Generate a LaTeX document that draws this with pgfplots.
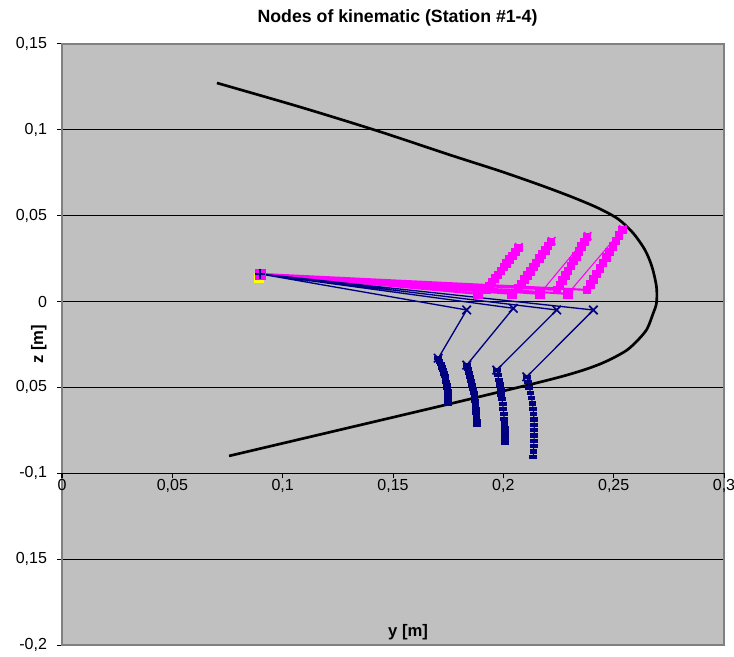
\documentclass[border=0pt]{standalone}
\usepackage{fontspec}
\setmainfont{Liberation Sans}
\usepackage{pgfplots}
\pgfplotsset{compat=1.18}

\definecolor{plotgray}{RGB}{192,192,192}
\definecolor{bordergray}{RGB}{128,128,128}
\definecolor{navy}{RGB}{0,0,128}
\definecolor{mag}{RGB}{255,0,255}
\definecolor{yel}{RGB}{255,255,0}

\pgfplotsset{
  sq/.style={mark=square*, mark options={solid, xscale=1.4, yscale=0.7}},
}

\begin{document}
\begin{tikzpicture}
\begin{axis}[
    name=main,
    scale only axis,
    width=496.5pt, height=450.75pt,
    xmin=0, xmax=0.3, ymin=-0.2, ymax=0.15,
    axis background/.style={fill=plotgray},
    axis line style={draw=bordergray, line width=1pt},
    xtick=\empty,
    ytick={-0.2,-0.15,-0.1,-0.05,0,0.05,0.1,0.15},
    yticklabels={{-0,2},{0,15},{-0,1},{0,05},{0},{0,05},{0,1},{0,15}},
    ytick pos=left,
    tick align=outside,
    major tick length=3.75pt,
    tick style={black, line width=0.75pt},
    yticklabel style={font=\fontsize{12}{14}\selectfont, anchor=east, xshift=-4pt},
    ymajorgrids,
    major grid style={black, line width=0.75pt},
    every axis title shift=0pt,
    title={Nodes of kinematic (Station \#1-4)},
    title style={font=\fontsize{13.3}{15}\selectfont\bfseries,
                 at={(axis description cs:0.5068,1.0433)}, anchor=center},
    xlabel={y [m]},
    xlabel style={font=\fontsize{12.5}{14}\selectfont\bfseries,
                  at={(axis description cs:0.5227,0.0216)}, anchor=center},
    ylabel={z [m]},
    ylabel style={font=\fontsize{12.5}{14}\selectfont\bfseries,
                  at={(axis description cs:-0.0352,0.5)}, anchor=center},
]
% outer contour
\addplot[black, line width=2pt, smooth, tension=0.5] coordinates {
  (0.0702,0.1273) (0.1079,0.1133) (0.1432,0.0993) (0.1758,0.0854)
  (0.1985,0.0760) (0.2166,0.0679) (0.2311,0.0609) (0.2429,0.0545)
  (0.2520,0.0481) (0.2588,0.0399) (0.2642,0.0300) (0.2674,0.0201)
  (0.2694,0.0085) (0.2694,-0.0008) (0.2678,-0.0072) (0.2651,-0.0160)
  (0.2610,-0.0224) (0.2561,-0.0282) (0.2497,-0.0329) (0.2438,-0.0364)
  (0.2370,-0.0396) (0.2280,-0.0431) (0.2166,-0.0469) (0.1925,-0.0544)
  (0.1668,-0.0623) (0.0757,-0.0899)
};

% magenta: hub to lower nodes
\addplot[mag, line width=1.6pt] table {
x y
0.0897 0.0161
0.1884 0.0045

0.0897 0.0161
0.1922 0.0068

0.0897 0.0161
0.2038 0.0045

0.0897 0.0161
0.2067 0.0080

0.0897 0.0161
0.2165 0.0045

0.0897 0.0161
0.2243 0.0068

0.0897 0.0161
0.2292 0.0045

0.0897 0.0161
0.2379 0.0068
};
% magenta: lower node to upper node
\addplot[mag, line width=0.8pt] table {
x y
0.1884 0.0045
0.2067 0.0313

0.2038 0.0045
0.2216 0.0348

0.2165 0.0045
0.2379 0.0377

0.2292 0.0045
0.2538 0.0417
};
% magenta: node paths
\addplot[mag, only marks, mark=square*, mark size=2.8pt] coordinates {
  (0.1922,0.0068) (0.1935,0.0090) (0.1948,0.0113) (0.1962,0.0135)
  (0.1975,0.0157) (0.1988,0.0179) (0.2001,0.0202) (0.2014,0.0224)
  (0.2027,0.0246) (0.2041,0.0268) (0.2054,0.0291) (0.2067,0.0313)
};
\addplot[mag, only marks, mark=square*, mark size=2.8pt] coordinates {
  (0.2067,0.0080) (0.2081,0.0104) (0.2094,0.0129) (0.2108,0.0153)
  (0.2121,0.0177) (0.2135,0.0202) (0.2148,0.0226) (0.2162,0.0251)
  (0.2175,0.0275) (0.2189,0.0299) (0.2202,0.0324) (0.2216,0.0348)
};
\addplot[mag, only marks, mark=square*, mark size=2.8pt] coordinates {
  (0.2243,0.0068) (0.2255,0.0096) (0.2268,0.0124) (0.2280,0.0152)
  (0.2292,0.0180) (0.2305,0.0208) (0.2317,0.0237) (0.2330,0.0265)
  (0.2342,0.0293) (0.2354,0.0321) (0.2367,0.0349) (0.2379,0.0377)
};
\addplot[mag, only marks, mark=square*, mark size=2.8pt] coordinates {
  (0.2379,0.0068) (0.2393,0.0100) (0.2408,0.0131) (0.2422,0.0163)
  (0.2437,0.0195) (0.2451,0.0227) (0.2466,0.0258) (0.2480,0.0290)
  (0.2495,0.0322) (0.2509,0.0354) (0.2524,0.0385) (0.2538,0.0417)
};
\addplot[mag, only marks, mark=square*, mark size=3.5pt] coordinates {
  (0.1884,0.0045) (0.2038,0.0045) (0.2165,0.0045) (0.2292,0.0045)
};
\addplot[mag, only marks, mark=x, mark size=4pt, mark options={line width=1.2pt}] coordinates {
  (0.2070,0.0318) (0.2219,0.0353) (0.2382,0.0382) (0.2541,0.0422)
};

% navy: hub to middle nodes to lower nodes
\addplot[navy, line width=1pt] table {
x y
0.0897 0.0161
0.1834 -0.0049
0.1705 -0.0330

0.0897 0.0161
0.2045 -0.0039
0.1834 -0.0370

0.0897 0.0161
0.2242 -0.0049
0.1970 -0.0399

0.0897 0.0161
0.2408 -0.0049
0.2106 -0.0438
};
% navy: lower node paths
\addplot[navy, line width=0.8pt, sq, mark size=1.8pt] coordinates {
  (0.1705,-0.0330) (0.1711,-0.0348) (0.1716,-0.0365) (0.1722,-0.0383)
  (0.1726,-0.0400) (0.1731,-0.0418) (0.1734,-0.0435) (0.1738,-0.0453)
  (0.1741,-0.0470) (0.1744,-0.0488) (0.1746,-0.0505) (0.1748,-0.0523)
  (0.1749,-0.0540) (0.1750,-0.0558) (0.1751,-0.0575) (0.1751,-0.0593)
};
\addplot[navy, line width=0.8pt, sq, mark size=1.8pt] coordinates {
  (0.1834,-0.0370) (0.1840,-0.0393) (0.1845,-0.0417) (0.1850,-0.0440)
  (0.1855,-0.0463) (0.1859,-0.0486) (0.1863,-0.0510) (0.1866,-0.0533)
  (0.1869,-0.0556) (0.1872,-0.0579) (0.1874,-0.0603) (0.1876,-0.0626)
  (0.1877,-0.0649) (0.1878,-0.0672) (0.1879,-0.0696) (0.1879,-0.0719)
};
\addplot[navy, line width=0.8pt, sq, mark size=1.8pt] coordinates {
  (0.1970,-0.0399) (0.1975,-0.0427) (0.1979,-0.0456) (0.1984,-0.0484)
  (0.1988,-0.0513) (0.1991,-0.0541) (0.1994,-0.0569) (0.1997,-0.0598)
  (0.2000,-0.0626) (0.2002,-0.0655) (0.2004,-0.0683) (0.2005,-0.0711)
  (0.2006,-0.0740) (0.2007,-0.0768) (0.2008,-0.0797) (0.2008,-0.0825)
};
\addplot[navy, line width=0.8pt, sq, mark size=1.8pt] coordinates {
  (0.2106,-0.0438) (0.2112,-0.0469) (0.2118,-0.0500) (0.2123,-0.0531)
  (0.2128,-0.0562) (0.2132,-0.0593) (0.2135,-0.0625) (0.2137,-0.0656)
  (0.2139,-0.0687) (0.2140,-0.0718) (0.2140,-0.0749) (0.2140,-0.0780)
  (0.2139,-0.0811) (0.2138,-0.0842) (0.2137,-0.0873) (0.2136,-0.0904)
};
\addplot[navy, only marks, mark=x, mark size=4.5pt, mark options={line width=1.3pt}] coordinates {
  (0.1834,-0.0049) (0.2045,-0.0039) (0.2242,-0.0049) (0.2408,-0.0049)
  (0.1705,-0.0330) (0.1834,-0.0370) (0.1970,-0.0399) (0.2106,-0.0438)
};

% hub
\addplot[yel, only marks, mark=square*, mark size=3.4pt] coordinates {(0.0891,0.0137)};
\addplot[mag, only marks, mark=square*, mark size=3.8pt] coordinates {(0.0897,0.0160)};
\addplot[navy, only marks, mark=+, mark size=4pt, mark options={line width=1.2pt}] coordinates {(0.0897,0.0161)};
\end{axis}

% horizontal axis crossing at z = -0.1
\begin{axis}[
    at={(main.north west)}, anchor=north west,
    scale only axis,
    width=496.5pt, height=321.96pt,
    xmin=0, xmax=0.3, ymin=-0.1, ymax=0.15,
    axis x line*=bottom,
    hide y axis,
    x axis line style={black, line width=0.75pt},
    xtick={0,0.05,0.1,0.15,0.2,0.25,0.3},
    xticklabels={0,{0,05},{0,1},{0,15},{0,2},{0,25},{0,3}},
    tick align=outside,
    major tick length=3.75pt,
    tick style={black, line width=0.75pt},
    xticklabel style={font=\fontsize{12}{14}\selectfont, anchor=north, yshift=3pt},
]
\end{axis}

\pgfresetboundingbox
\path[use as bounding box] ([xshift=-46.5pt,yshift=-8.25pt]main.south west)
  rectangle ([xshift=7.5pt,yshift=33pt]main.north east);
\end{tikzpicture}
\end{document}
